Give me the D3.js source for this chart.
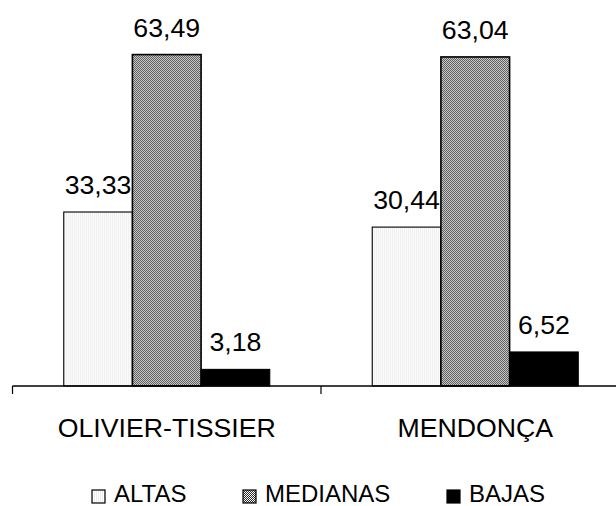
<!DOCTYPE html>
<html>
<head>
<meta charset="utf-8">
<script src="https://cdn.jsdelivr.net/npm/d3@7"></script>
<style>
  html, body { margin: 0; padding: 0; background: #fff; }
  svg { display: block; font-family: "Liberation Sans", Arial, sans-serif; }
</style>
</head>
<body>
<svg id="chart" width="616" height="506"></svg>
<script>
// Methods compared and the three classes of each
const categories = ["OLIVIER-TISSIER", "MENDONÇA"];
const series = ["ALTAS", "MEDIANAS", "BAJAS"];
const altas = [33.33, 30.44];
const medianas = [63.49, 63.04];
const bajas = [3.18, 6.52];
const valueLabels = [["33,33", "63,49", "3,18"], ["30,44", "63,04", "6,52"]];

const values = categories.map((c, i) => ({
  cat: c,
  vals: [altas[i], medianas[i], bajas[i]]
}));

const svg = d3.select("#chart");
const defs = svg.append("defs");

// light vertical hatch for ALTAS
const pAlt = defs.append("pattern").attr("id", "pat-altas")
  .attr("patternUnits", "userSpaceOnUse").attr("width", 2).attr("height", 2);
pAlt.append("rect").attr("width", 2).attr("height", 2).attr("fill", "#ffffff");
pAlt.append("rect").attr("width", 1).attr("height", 2).attr("fill", "#ececec");

// fine checkerboard for MEDIANAS
const pMed = defs.append("pattern").attr("id", "pat-med")
  .attr("patternUnits", "userSpaceOnUse").attr("width", 2).attr("height", 2);
pMed.append("rect").attr("width", 2).attr("height", 2).attr("fill", "#ffffff");
pMed.append("rect").attr("x", 0).attr("y", 0).attr("width", 1).attr("height", 1).attr("fill", "#2a2a2a");
pMed.append("rect").attr("x", 1).attr("y", 1).attr("width", 1).attr("height", 1).attr("fill", "#2a2a2a");

const fills = ["url(#pat-altas)", "url(#pat-med)", "#000000"];

const baseY = 386;
const y = d3.scaleLinear().domain([0, 70]).range([baseY, baseY - 70 * 5.22]);

const x0 = d3.scaleBand().domain(categories).range([12.5, 12.5 + 2 * 308.5]);
const groupW = 206;
const x1 = d3.scaleBand().domain(series).range([0, groupW]);
const groupOffset = (x0.bandwidth() - groupW) / 2;

// bars
const groups = svg.append("g").selectAll("g").data(values).join("g")
  .attr("transform", d => `translate(${x0(d.cat) + groupOffset},0)`);

groups.selectAll("rect").data(d => d.vals.map((v, j) => ({ s: series[j], v, j })))
  .join("rect")
  .attr("x", d => x1(d.s))
  .attr("y", d => y(d.v))
  .attr("width", x1.bandwidth())
  .attr("height", d => baseY - y(d.v))
  .attr("fill", d => fills[d.j])
  .attr("stroke", "#000")
  .attr("stroke-width", d => d.j === 1 ? 1.6 : 1.1);

// value labels
groups.selectAll("text").data((d, i) => d.vals.map((v, j) => ({ s: series[j], v, label: valueLabels[i][j] })))
  .join("text")
  .attr("x", d => x1(d.s) + x1.bandwidth() / 2)
  .attr("y", d => y(d.v) - 18)
  .attr("text-anchor", "middle")
  .attr("font-size", 26.7)
  .attr("fill", "#000")
  .text(d => d.label);

// category axis
const axis = svg.append("g");
axis.append("line")
  .attr("x1", x0.range()[0]).attr("x2", 616)
  .attr("y1", baseY).attr("y2", baseY)
  .attr("stroke", "#000").attr("stroke-width", 1.5);
axis.selectAll("line.tick").data(categories).join("line").attr("class", "tick")
  .attr("x1", d => x0(d)).attr("x2", d => x0(d))
  .attr("y1", baseY).attr("y2", baseY + 8)
  .attr("stroke", "#000").attr("stroke-width", 1.2);
axis.selectAll("text").data(categories).join("text")
  .attr("x", d => x0(d) + x0.bandwidth() / 2)
  .attr("y", 437)
  .attr("text-anchor", "middle")
  .attr("font-size", 26.7)
  .text(d => d);

// legend
const legendX = [92, 243, 447];
const legend = svg.append("g").selectAll("g").data(series).join("g")
  .attr("transform", (d, i) => `translate(${legendX[i]},490)`);
legend.append("rect")
  .attr("width", 13).attr("height", 13)
  .attr("fill", (d, i) => fills[i])
  .attr("stroke", "#000").attr("stroke-width", 1.2);
legend.append("text")
  .attr("x", 22).attr("y", 12)
  .attr("font-size", 24)
  .text(d => d);
</script>
</body>
</html>
